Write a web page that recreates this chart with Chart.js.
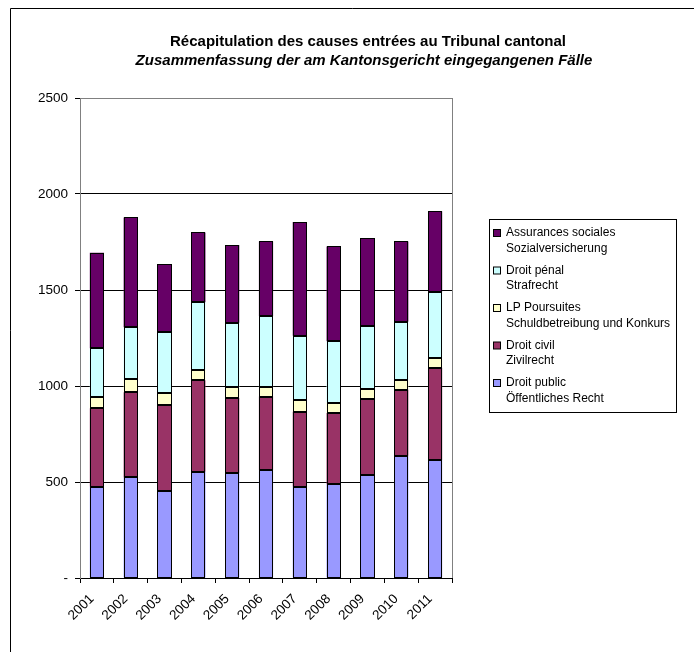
<!DOCTYPE html>
<html>
<head>
<meta charset="utf-8">
<script src="https://cdn.jsdelivr.net/npm/chart.js@4/dist/chart.umd.min.js"></script>
<style>
  html, body { margin: 0; padding: 0; background: #fff; }
  #wrap { width: 694px; height: 652px; position: relative; }
</style>
</head>
<body>
<div id="wrap"><canvas id="c" width="694" height="652"></canvas></div>
<script>
// Years on the category axis
const years = ['2001','2002','2003','2004','2005','2006','2007','2008','2009','2010','2011'];

// Cases per area of law, stacked bottom to top
const droitPublic   = [476, 524, 451, 554, 547, 561, 476, 488, 535, 637, 615];
const droitCivil    = [408, 443, 452, 476, 391, 384, 390, 371, 397, 344, 480];
const lpPoursuites  = [57, 68, 59, 55, 59, 50, 61, 54, 51, 49, 49];
const droitPenal    = [255, 271, 319, 351, 333, 370, 335, 320, 331, 305, 347];
const assurances    = [498, 572, 353, 364, 404, 388, 592, 494, 457, 418, 419];

// Two-line (French / German) series names
const seriesNames = [
  ['Droit public', 'Öffentliches Recht'],
  ['Droit civil', 'Zivilrecht'],
  ['LP Poursuites', 'Schuldbetreibung und Konkurs'],
  ['Droit pénal', 'Strafrecht'],
  ['Assurances sociales', 'Sozialversicherung']
];
const seriesColors = ['#9999FF', '#993366', '#FFFFCC', '#CCFFFF', '#660066'];
const seriesValues = [droitPublic, droitCivil, lpPoursuites, droitPenal, assurances];

const yTicks = [0, 500, 1000, 1500, 2000, 2500];

const titleLines = [
  'Récapitulation des causes entrées au Tribunal cantonal',
  'Zusammenfassung der am Kantonsgericht eingegangenen Fälle'
];

const FONT = '"Liberation Sans", Arial, sans-serif';

// Crisp black outlines around every stacked segment
const barOutlines = {
  id: 'barOutlines',
  afterDatasetsDraw(chart) {
    const ctx = chart.ctx;
    ctx.save();
    ctx.strokeStyle = '#000';
    ctx.lineWidth = 1;
    chart.data.datasets.forEach((ds, di) => {
      const meta = chart.getDatasetMeta(di);
      meta.data.forEach(bar => {
        const p = bar.getProps(['x', 'y', 'base', 'width'], true);
        const l = Math.round(p.x - p.width / 2) + 0.5;
        const r = Math.round(p.x + p.width / 2) - 0.5;
        const t = Math.round(Math.min(p.y, p.base)) + 0.5;
        const b = Math.round(Math.max(p.y, p.base)) - 0.5;
        ctx.strokeRect(l, t, r - l, b - t);
      });
    });
    ctx.restore();
  }
};

// Outer frame, title, plot border and the boxed legend
const decorations = {
  id: 'decorations',
  beforeDraw(chart) {
    const ctx = chart.ctx;
    ctx.save();
    ctx.fillStyle = '#fff';
    ctx.fillRect(0, 0, chart.width, chart.height);
    ctx.strokeStyle = '#000';
    ctx.lineWidth = 1;
    ctx.beginPath();
    ctx.moveTo(10.5, chart.height + 2);
    ctx.lineTo(10.5, 8.5);
    ctx.lineTo(chart.width + 2, 8.5);
    ctx.stroke();
    ctx.restore();
  },
  afterDraw(chart) {
    const ctx = chart.ctx;
    const area = chart.chartArea;
    ctx.save();
    // right border of the plot area
    ctx.strokeStyle = '#808080';
    ctx.lineWidth = 1;
    ctx.beginPath();
    ctx.moveTo(Math.round(area.right) + 0.5, area.top);
    ctx.lineTo(Math.round(area.right) + 0.5, area.bottom);
    ctx.stroke();

    // title
    ctx.fillStyle = '#000';
    ctx.textAlign = 'center';
    ctx.textBaseline = 'middle';
    ctx.font = 'bold 15px ' + FONT;
    ctx.fillText(titleLines[0], 368, 42);
    ctx.font = 'italic bold 15px ' + FONT;
    ctx.fillText(titleLines[1], 364, 61);

    // legend box
    const lx = 489.5, ly = 219.5, lw = 187, lh = 193;
    ctx.strokeStyle = '#000';
    ctx.strokeRect(lx, ly, lw, lh);
    ctx.font = '12px ' + FONT;
    ctx.textAlign = 'left';
    const order = [4, 3, 2, 1, 0];
    order.forEach((si, i) => {
      const y0 = 233 + i * 37.5;
      ctx.fillStyle = seriesColors[si];
      ctx.fillRect(493.5, y0 - 3.5, 7, 7);
      ctx.strokeStyle = '#000';
      ctx.strokeRect(493.5, y0 - 3.5, 7, 7);
      ctx.fillStyle = '#000';
      ctx.fillText(seriesNames[si][0], 506, y0);
      ctx.fillText(seriesNames[si][1], 506, y0 + 15.5);
    });
    ctx.restore();
  }
};

new Chart(document.getElementById('c'), {
  type: 'bar',
  data: {
    labels: years,
    datasets: seriesValues.map((vals, i) => ({
      label: seriesNames[i].join(' / '),
      data: vals,
      backgroundColor: seriesColors[i],
      borderWidth: 0,
      barPercentage: 0.42,
      categoryPercentage: 1.0
    }))
  },
  options: {
    responsive: false,
    animation: false,
    devicePixelRatio: 1,
    layout: { padding: { top: 98, left: 10, right: 242, bottom: 12 } },
    plugins: {
      legend: { display: false },
      title: { display: false },
      tooltip: { enabled: false }
    },
    scales: {
      x: {
        stacked: true,
        afterFit(scale) { scale.height = 62; },
        grid: {
          offset: true,
          drawOnChartArea: false,
          drawTicks: true,
          tickLength: 5,
          color: '#000'
        },
        border: { color: '#000', width: 1 },
        ticks: {
          color: '#000',
          font: { family: FONT, size: 13.5 },
          maxRotation: 45,
          minRotation: 45,
          padding: 8,
          labelOffset: -5
        }
      },
      y: {
        stacked: true,
        min: 0,
        max: 2500,
        afterFit(scale) { scale.width = 70; },
        afterBuildTicks(scale) { scale.ticks = yTicks.map(v => ({ value: v })); },
        grid: {
          color: ctx => (ctx.tick && ctx.tick.value === 2500) ? '#808080' : '#000',
          tickColor: '#000',
          tickLength: 5,
          drawTicks: true
        },
        border: { color: '#808080', width: 1 },
        ticks: {
          color: '#000',
          font: { family: FONT, size: 13.5 },
          padding: 7,
          callback: v => v === 0 ? '-' : String(v)
        }
      }
    }
  },
  plugins: [decorations, barOutlines]
});
</script>
</body>
</html>
